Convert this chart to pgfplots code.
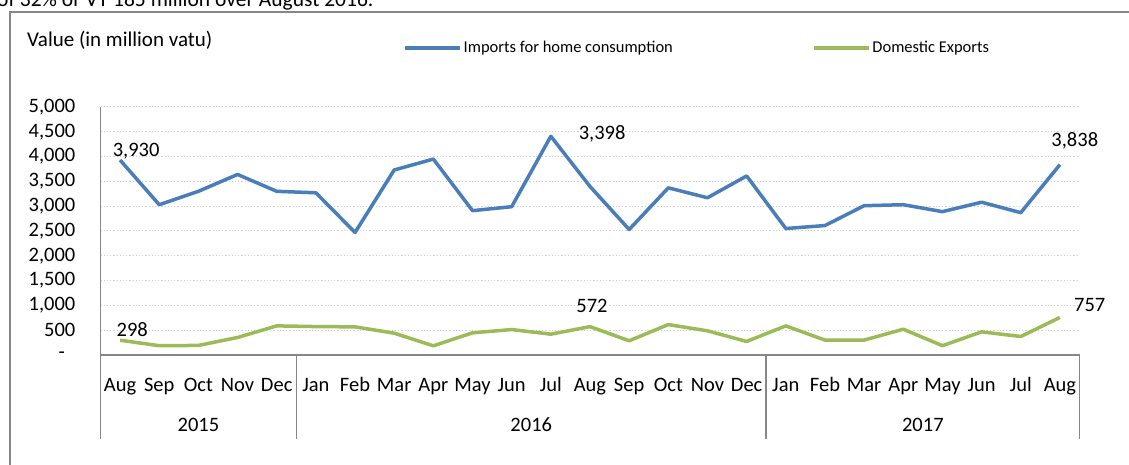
\documentclass[border=0pt]{standalone}
\usepackage{fontspec}
\setmainfont{Carlito}
\usepackage{pgfplots}
\pgfplotsset{compat=1.18}
\definecolor{impblue}{HTML}{4A7EBB}
\definecolor{expgreen}{HTML}{9BBB59}
\definecolor{axgray}{HTML}{868686}
\definecolor{gridgray}{HTML}{D0D0D0}
\begin{document}
\begin{tikzpicture}
\fill[white] (0pt,0pt) rectangle (1129pt,465pt);
\node[anchor=base west, inner sep=0pt, font=\fontsize{21.5}{26}\selectfont] at (-3pt,458pt) {of 32\% or VT 185 million over August 2016.};
\draw[axgray, line width=1.5pt] (10pt,-20pt) -- (10pt,453pt) -- (1150pt,453pt);
\node[anchor=base west, inner sep=0pt, font=\fontsize{21}{25}\selectfont] at (27pt,418pt) {Value (in million vatu)};
\begin{axis}[
  at={(100.5pt,110pt)}, anchor=south west,
  scale only axis, width=979pt, height=248pt,
  xmin=-0.5, xmax=24.5, ymin=0, ymax=5000,
  axis lines*=left,
  axis line style={axgray, line width=1.5pt},
  clip=false,
  major tick length=0pt,
  xtick={0,...,24},
  xticklabels={Aug,Sep,Oct,Nov,Dec,Jan,Feb,Mar,Apr,May,Jun,Jul,Aug,Sep,Oct,Nov,Dec,Jan,Feb,Mar,Apr,May,Jun,Jul,Aug},
  xticklabel style={anchor=base, yshift=-37pt, inner sep=0pt, font=\fontsize{20.5}{24}\selectfont},
  ytick={0,500,...,5000},
  yticklabels={-\hphantom{0},500,{1,000},{1,500},{2,000},{2,500},{3,000},{3,500},{4,000},{4,500},{5,000}},
  yticklabel style={anchor=east, xshift=-25pt, inner sep=0pt, font=\fontsize{20.5}{24}\selectfont},
  ymajorgrids,
  grid style={gridgray, line width=1pt, dash pattern=on 1.2pt off 2pt},
  legend columns=2,
  legend style={at={(axis description cs:0.309,1.238)}, anchor=west, draw=none, fill=none, inner sep=0pt,
    font=\fontsize{16.5}{20}\selectfont,
    /tikz/every even column/.append style={column sep=137pt}},
  legend image code/.code={\draw[#1, line width=3.5pt] (0pt,0pt) -- (55pt,0pt);},
]
\addplot[impblue, line width=3.5pt, line join=round] coordinates {
(0,3930) (1,3030) (2,3300) (3,3640) (4,3300) (5,3270) (6,2470) (7,3730) (8,3950) (9,2910) (10,2990) (11,4410) (12,3398)
(13,2530) (14,3370) (15,3170) (16,3610) (17,2550) (18,2610) (19,3010) (20,3030) (21,2890) (22,3080) (23,2870) (24,3838)};
\addlegendentry{Imports for home consumption}
\addplot[expgreen, line width=3.5pt, line join=round] coordinates {
(0,298) (1,187) (2,193) (3,353) (4,587) (5,573) (6,567) (7,440) (8,185) (9,447) (10,513) (11,420) (12,572)
(13,287) (14,613) (15,487) (16,273) (17,587) (18,300) (19,300) (20,520) (21,187) (22,467) (23,373) (24,757)};
\addlegendentry{Domestic Exports}
\node[anchor=base, inner sep=0pt, font=\fontsize{20.5}{24}\selectfont] at (axis cs:0.41,3992) {3,930};
\node[anchor=base, inner sep=0pt, font=\fontsize{20.5}{24}\selectfont] at (axis cs:0.31,363) {298};
\node[anchor=base, inner sep=0pt, font=\fontsize{20.5}{24}\selectfont] at (axis cs:12.31,4335) {3,398};
\node[anchor=base, inner sep=0pt, font=\fontsize{20.5}{24}\selectfont] at (axis cs:12.05,847) {572};
\node[anchor=base, inner sep=0pt, font=\fontsize{20.5}{24}\selectfont] at (axis cs:24.38,4194) {3,838};
\node[anchor=base, inner sep=0pt, font=\fontsize{20.5}{24}\selectfont] at (axis cs:24.76,867) {757};
\draw[axgray, line width=1.5pt] (axis cs:-0.5,0) -- ++(0pt,-84pt);
\draw[axgray, line width=1.5pt] (axis cs:4.5,0) -- ++(0pt,-84pt);
\draw[axgray, line width=1.5pt] (axis cs:16.5,0) -- ++(0pt,-84pt);
\draw[axgray, line width=1.5pt] (axis cs:24.5,0) -- ++(0pt,-84pt);
\node[anchor=base, inner sep=0pt, font=\fontsize{20.5}{24}\selectfont] at (axis cs:2,0) [yshift=-77pt] {2015};
\node[anchor=base, inner sep=0pt, font=\fontsize{20.5}{24}\selectfont] at (axis cs:10.5,0) [yshift=-77pt] {2016};
\node[anchor=base, inner sep=0pt, font=\fontsize{20.5}{24}\selectfont] at (axis cs:20.5,0) [yshift=-77pt] {2017};
\end{axis}
\pgfresetboundingbox
\useasboundingbox (0pt,0pt) rectangle (1129pt,465pt);
\end{tikzpicture}
\end{document}
